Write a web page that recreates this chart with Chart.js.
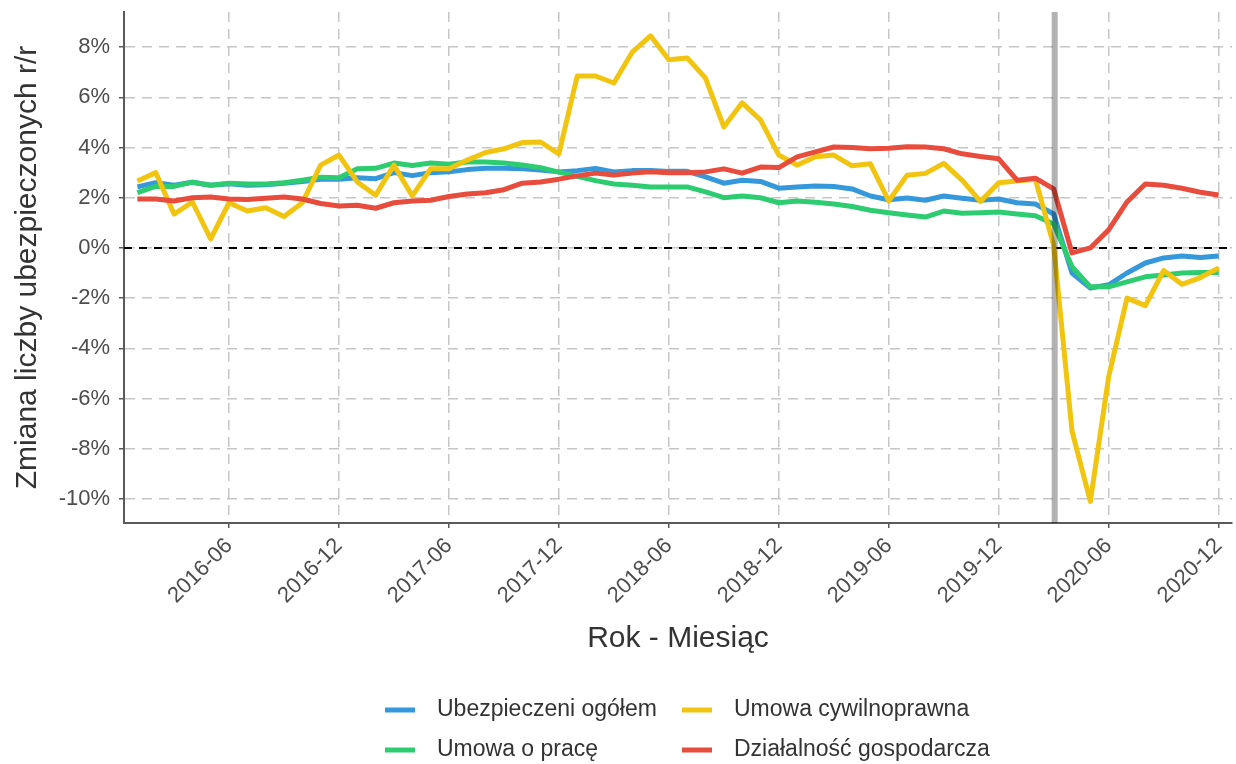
<!DOCTYPE html>
<html lang="pl">
<head>
<meta charset="utf-8">
<script src="https://cdn.jsdelivr.net/npm/chart.js@4.4.1/dist/chart.umd.min.js"></script>
<style>
  html, body { margin: 0; padding: 0; background: #fff; }
  #wrap { width: 1236px; height: 764px; }
</style>
</head>
<body>
<div id="wrap"><canvas id="myChart" width="1236" height="764"></canvas></div>
<script>
"use strict";

// months 2016-01 .. 2020-12
let months = [];
for (let y = 2016; y <= 2020; y++) {
    for (let m = 1; m <= 12; m++) {
        months.push(`${y}-${String(m).padStart(2, '0')}`);
    }
}
let tickLabels = ['2016-06', '2016-12', '2017-06', '2017-12', '2018-06', '2018-12',
    '2019-06', '2019-12', '2020-06', '2020-12'];
let yTicks = [-10, -8, -6, -4, -2, 0, 2, 4, 6, 8];
let covidMonth = '2020-03';

let seriesNames = ['Ubezpieczeni ogółem', 'Umowa o pracę', 'Umowa cywilnoprawna', 'Działalność gospodarcza'];

let ogolem = [2.43, 2.6, 2.5, 2.62, 2.5, 2.56, 2.5, 2.52, 2.58, 2.65, 2.74, 2.74,
    2.8, 2.76, 3.0, 2.88, 3.0, 3.03, 3.12, 3.17, 3.17, 3.15, 3.1, 3.03,
    3.08, 3.17, 3.03, 3.08, 3.08, 3.05, 3.05, 2.83, 2.58, 2.7, 2.65, 2.38,
    2.43, 2.47, 2.45, 2.35, 2.07, 1.92, 1.99, 1.9, 2.07, 1.98, 1.9, 1.95,
    1.8, 1.75, 1.35, -1.0, -1.6, -1.47, -1.0, -0.6, -0.4, -0.32, -0.38, -0.32];

let umowaOPrace = [2.2, 2.45, 2.45, 2.62, 2.5, 2.58, 2.55, 2.55, 2.6, 2.7, 2.82, 2.8,
    3.15, 3.17, 3.38, 3.28, 3.38, 3.33, 3.42, 3.42, 3.38, 3.3, 3.2, 3.02,
    2.85, 2.68, 2.55, 2.5, 2.43, 2.43, 2.43, 2.23, 2.0, 2.07, 2.0, 1.8,
    1.87, 1.82, 1.75, 1.65, 1.5, 1.4, 1.31, 1.23, 1.47, 1.38, 1.4, 1.43,
    1.35, 1.28, 0.95, -0.75, -1.55, -1.55, -1.35, -1.15, -1.08, -1.0, -0.98, -0.98];

let umowaCywilna = [2.67, 3.0, 1.35, 1.83, 0.36, 1.8, 1.47, 1.6, 1.25, 1.8, 3.3, 3.7,
    2.63, 2.1, 3.3, 2.07, 3.15, 3.15, 3.5, 3.8, 3.95, 4.2, 4.22, 3.75,
    6.85, 6.85, 6.57, 7.8, 8.45, 7.5, 7.57, 6.77, 4.82, 5.78, 5.1, 3.7,
    3.3, 3.63, 3.7, 3.27, 3.35, 1.87, 2.9, 2.97, 3.37, 2.7, 1.85, 2.6,
    2.67, 2.74, 0.1, -7.3, -10.1, -5.13, -2.0, -2.3, -0.9, -1.45, -1.18, -0.8];

let dzialalnosc = [1.95, 1.95, 1.87, 2.0, 2.03, 1.95, 1.93, 1.98, 2.03, 1.95, 1.77, 1.67,
    1.7, 1.58, 1.8, 1.87, 1.9, 2.05, 2.15, 2.2, 2.32, 2.58, 2.63, 2.74,
    2.87, 2.98, 2.9, 2.98, 3.03, 3.0, 3.0, 3.03, 3.15, 2.98, 3.22, 3.2,
    3.63, 3.83, 4.02, 4.0, 3.95, 3.97, 4.03, 4.02, 3.95, 3.75, 3.64, 3.55,
    2.7, 2.78, 2.35, -0.2, 0.0, 0.72, 1.83, 2.55, 2.5, 2.38, 2.22, 2.11];

let seriesValues = [ogolem, umowaOPrace, umowaCywilna, dzialalnosc];
let seriesColors = ['#3498db', '#2ecc71', '#f1c40f', '#e74c3c'];

Chart.defaults.font.family = '"Liberation Sans", Arial, sans-serif';

function toPoints(values) {
    return values.map((v, i) => ({ x: i, y: v }));
}

// zero line + vertical marker
const refLines = {
    id: 'refLines',
    beforeDatasetsDraw(chart) {
        const { ctx, chartArea, scales } = chart;
        let y0 = scales.y.getPixelForValue(0);
        ctx.save();
        ctx.strokeStyle = '#000';
        ctx.lineWidth = 2;
        ctx.setLineDash([8, 7]);
        ctx.beginPath();
        ctx.moveTo(chartArea.left, y0);
        ctx.lineTo(chartArea.right, y0);
        ctx.stroke();
        ctx.restore();
    },
    afterDatasetsDraw(chart) {
        const { ctx, chartArea, scales } = chart;
        let xv = scales.x.getPixelForValue(months.indexOf(covidMonth));
        ctx.save();
        ctx.strokeStyle = 'rgba(0,0,0,0.3)';
        ctx.lineWidth = 6;
        ctx.beginPath();
        ctx.moveTo(xv + 1, chartArea.top);
        ctx.lineTo(xv + 1, chartArea.bottom);
        ctx.stroke();
        ctx.restore();
    }
};

// two-column legend, filled by column like ggplot
const bottomLegend = {
    id: 'bottomLegend',
    afterDraw(chart) {
        const { ctx } = chart;
        let cols = [385, 682];
        let rows = [710, 750];
        ctx.save();
        ctx.font = '23px "Liberation Sans", Arial, sans-serif';
        ctx.textBaseline = 'middle';
        ctx.fillStyle = '#333';
        chart.data.datasets.forEach((ds, i) => {
            let x = cols[Math.floor(i / 2)];
            let y = rows[i % 2];
            ctx.strokeStyle = ds.borderColor;
            ctx.lineWidth = 5;
            ctx.beginPath();
            ctx.moveTo(x, y);
            ctx.lineTo(x + 30, y);
            ctx.stroke();
            ctx.fillText(ds.label, x + 52, y);
        });
        ctx.restore();
    }
};

let datasets = seriesNames.map((name, i) => ({
    label: name,
    data: toPoints(seriesValues[i]),
    borderColor: seriesColors[i],
    backgroundColor: seriesColors[i],
    borderWidth: 5,
    borderJoinStyle: 'round',
    pointRadius: 0,
    tension: 0,
    order: seriesNames.length - i
}));

let ctx = document.getElementById('myChart').getContext('2d');
const myChart = new Chart(ctx, {
    type: 'line',
    data: { datasets: datasets },
    plugins: [refLines, bottomLegend],
    options: {
        responsive: false,
        animation: false,
        devicePixelRatio: 1,
        layout: { padding: { top: 12, right: 4, left: 0, bottom: 0 } },
        plugins: {
            legend: { display: false },
            tooltip: { enabled: false }
        },
        scales: {
            x: {
                type: 'linear',
                min: -0.73,
                max: 59.73,
                afterBuildTicks: (scale) => {
                    scale.ticks = tickLabels.map(l => ({ value: months.indexOf(l) }));
                },
                afterFit: (scale) => {
                    scale.height = 241;
                    scale.paddingLeft = 0;
                    scale.paddingRight = 0;
                },
                ticks: {
                    callback: (v) => months[v],
                    minRotation: 45,
                    maxRotation: 45,
                    autoSkip: false,
                    padding: 5,
                    color: '#4d4d4d',
                    font: { size: 22 }
                },
                grid: {
                    color: '#c6c6c6',
                    lineWidth: 1.5,
                    tickColor: '#5a5a5a',
                    tickWidth: 1.5,
                    tickLength: 5,
                    tickBorderDash: []
                },
                border: { display: true, color: '#5a5a5a', width: 2, dash: [10, 7] },
                title: {
                    display: true,
                    text: 'Rok - Miesiąc',
                    color: '#333',
                    font: { size: 30 },
                    padding: { top: 0, bottom: 107 }
                }
            },
            y: {
                min: -10.96,
                max: 9.4,
                afterBuildTicks: (scale) => {
                    scale.ticks = yTicks.map(v => ({ value: v }));
                },
                afterFit: (scale) => {
                    scale.width = 124;
                    scale.paddingTop = 0;
                    scale.paddingBottom = 0;
                },
                ticks: {
                    callback: (v) => v + '%',
                    padding: 9,
                    color: '#4d4d4d',
                    font: { size: 22 }
                },
                grid: {
                    color: '#c6c6c6',
                    lineWidth: 1.5,
                    tickColor: '#5a5a5a',
                    tickWidth: 1.5,
                    tickLength: 5,
                    tickBorderDash: []
                },
                border: { display: true, color: '#5a5a5a', width: 2, dash: [10, 7] },
                title: {
                    display: true,
                    text: 'Zmiana liczby ubezpieczonych r/r',
                    color: '#333',
                    font: { size: 30 },
                    padding: { top: 10, bottom: 0 }
                }
            }
        }
    }
});
</script>
</body>
</html>
